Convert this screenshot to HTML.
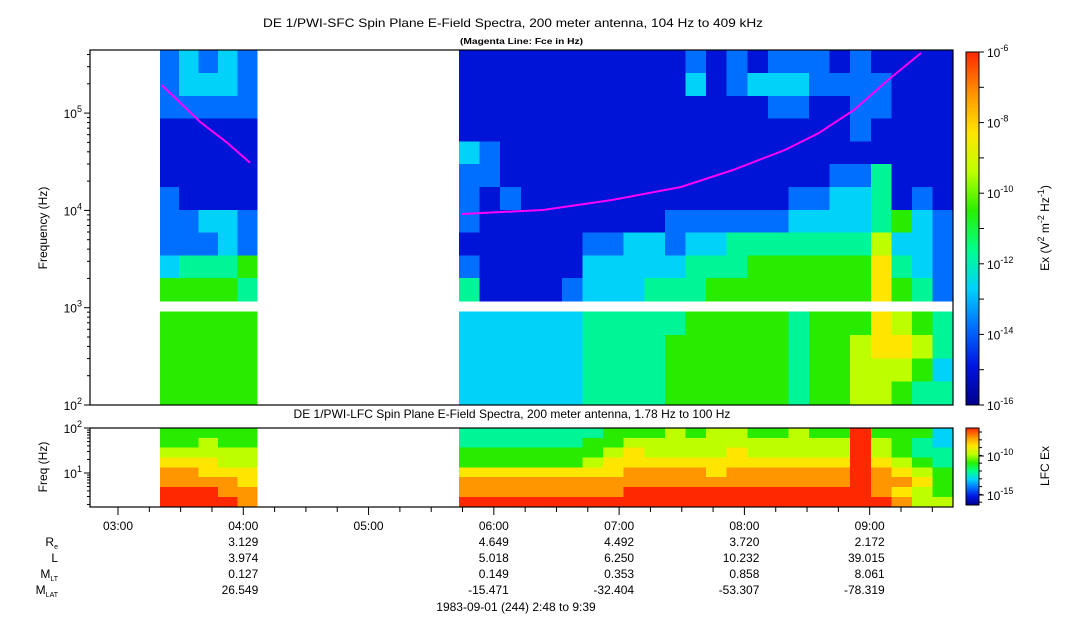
<!DOCTYPE html>
<html><head><meta charset="utf-8"><style>
body{margin:0;background:#fff;}
svg{display:block;font-family:"Liberation Sans",sans-serif;}
</style></head><body>
<svg id="chart" width="1083" height="620" viewBox="0 0 1083 620">
<defs>
<linearGradient id="cbar" x1="0" y1="1" x2="0" y2="0">
<stop offset="0" stop-color="#00008c"/><stop offset="0.11" stop-color="#0014e1"/><stop offset="0.22" stop-color="#006eff"/><stop offset="0.33" stop-color="#00d2fa"/><stop offset="0.44" stop-color="#00ff8c"/><stop offset="0.55" stop-color="#28f000"/><stop offset="0.66" stop-color="#beff00"/><stop offset="0.77" stop-color="#ffe600"/><stop offset="0.88" stop-color="#ff9600"/><stop offset="1" stop-color="#ff2800"/>
</linearGradient>
</defs>
<text x="263" y="27" font-size="12" textLength="500" lengthAdjust="spacingAndGlyphs">DE 1/PWI-SFC  Spin Plane E-Field Spectra, 200 meter antenna, 104 Hz to 409 kHz</text>
<text x="460" y="44" font-size="8" font-weight="bold" textLength="123" lengthAdjust="spacingAndGlyphs">(Magenta Line: Fce in Hz)</text>
<text x="512" y="418" font-size="12" text-anchor="middle">DE 1/PWI-LFC  Spin Plane E-Field Spectra, 200 meter antenna, 1.78 Hz to 100 Hz</text>
<text transform="translate(47,228) rotate(-90)" font-size="12" text-anchor="middle">Frequency (Hz)</text>
<text transform="translate(47,467) rotate(-90)" font-size="12" text-anchor="middle">Freq (Hz)</text>
<text transform="translate(1049,228) rotate(-90)" font-size="12" text-anchor="middle">Ex (V<tspan dy="-5" font-size="9">2</tspan><tspan dy="5"> m</tspan><tspan dy="-5" font-size="9">-2</tspan><tspan dy="5"> Hz</tspan><tspan dy="-5" font-size="9">-1</tspan><tspan dy="5">)</tspan></text>
<text transform="translate(1049,466) rotate(-90)" font-size="12" text-anchor="middle">LFC Ex</text>
<rect x="966" y="52" width="13" height="353" fill="url(#cbar)" stroke="#000" stroke-width="1"/>
<rect x="966" y="428" width="13" height="77" fill="url(#cbar)" stroke="#000" stroke-width="1"/>
<g id="cells"></g>
<g id="overlay"></g>
<rect x="90" y="50" width="863" height="355" fill="none" stroke="#000" stroke-width="1.2"/>
<rect x="90" y="428" width="863" height="79" fill="none" stroke="#000" stroke-width="1.2"/>
<g id="axes"></g>
</svg>
<script>
// ---- data (values on 0..9 scale = log power level) ----
const leftTimeRange = [200, 246.5];   // minutes of day
const rightTimeRange = [343.3, 580];
const sfcUpperLogRange = [3.07, 5.646];
const sfcLowerLogRange = [2.0, 2.96];
const lfcLogRange = [0.25, 2.0];
const sfcLeftUpper = ["23232","23332","22222","11111","11111","11111","21111","22332","22232","34445","55554"];
const sfcLeftLower = ["55555","55555","55555","55555"];
const sfcRightUpper = [
"111111111112121222121111",
"111111111113123332222111",
"111111111111111221122111",
"111111111111111111121111",
"321111111111111111111111",
"221111111111111111224111",
"212111111111111122334121",
"211111111122222233334532",
"111111223323344444446332",
"211111333334445555557432",
"411112333444555555557542"];
const sfcRightLower = [
"333333444445555545557654",
"333333444455555545567764",
"333333444455555545566653",
"333333444455555545566544"];
const lfcLeft = ["55555","55655","66666","77766","88777","88887","99988","99998"];
const lfcRight = [
"444444455565665565595553",
"444444556666666666696543",
"555555567666676666696544",
"555555677777777777797654",
"777777778888788888898765",
"888888888888888888898875",
"888888889999999999998765",
"999999999999999999999866"];
const fceLeftTimes = [200.9, 219.3, 232, 243.2];
const fceLeftLogF = [5.289, 4.91, 4.70, 4.49];
const fceRightTimes = [344.7, 383.5, 416.6, 449.6, 474.5, 499.4, 515.7, 532.5, 548.8, 564.6];
const fceRightLogF = [3.963, 4.004, 4.107, 4.240, 4.415, 4.621, 4.795, 5.032, 5.340, 5.618];
const timeTickLabels = ["03:00","04:00","05:00","06:00","07:00","08:00","09:00"];
const timeTickMinutes = [180,240,300,360,420,480,540];
const statRowLabels = ["R","L","M","M"];
const statRowSubs = ["e","","LT","LAT"];
const statColMinutes = [240,360,420,480,540];
const statRe = ["3.129","4.649","4.492","3.720","2.172"];
const statL = ["3.974","5.018","6.250","10.232","39.015"];
const statMLT = ["0.127","0.149","0.353","0.858","8.061"];
const statMLAT = ["26.549","-15.471","-32.404","-53.307","-78.319"];

// ---- scales ----
const NS='http://www.w3.org/2000/svg';
const xT = t => 118 + (t-180)*2.088;
const ySfc = lf => 405 - (lf-2)*97.3;
const yLfc = lf => 428 + (2-lf)*45;
const palette = [[0,0,140],[0,20,215],[0,110,255],[0,210,250],[0,245,150],[40,235,0],[190,255,0],[255,230,0],[255,150,0],[255,40,0]];
const color = v => { const c = palette[Math.max(0,Math.min(9,Math.round(v)))]; return `rgb(${c[0]},${c[1]},${c[2]})`; };
const cells = document.getElementById('cells');
const overlay = document.getElementById('overlay');
const axes = document.getElementById('axes');
function mk(tag, attrs, parent){ const e=document.createElementNS(NS,tag); for(const k in attrs) e.setAttribute(k,attrs[k]); parent.appendChild(e); return e; }

function drawGrid(rows, tRange, logRange, yFn, name){
  const nr = rows.length, nc = rows[0].length;
  const dt = (tRange[1]-tRange[0])/nc, dl = (logRange[1]-logRange[0])/nr;
  rows.forEach((row, i) => {
    for (let j=0;j<nc;j++){
      const x0 = xT(tRange[0]+j*dt), x1 = xT(tRange[0]+(j+1)*dt);
      const yTop = yFn(logRange[1]-i*dl), yBot = yFn(logRange[1]-(i+1)*dl);
      const r = mk('rect',{x:x0.toFixed(2),y:yTop.toFixed(2),width:(x1-x0+0.4).toFixed(2),height:(yBot-yTop+0.4).toFixed(2),fill:color(+row[j]),'shape-rendering':'crispEdges'},cells);
      
      
    }
  });
}
drawGrid(sfcLeftUpper, leftTimeRange, sfcUpperLogRange, ySfc, 'sfc-cell');
drawGrid(sfcLeftLower, leftTimeRange, sfcLowerLogRange, ySfc, 'sfc-cell');
drawGrid(sfcRightUpper, rightTimeRange, sfcUpperLogRange, ySfc, 'sfc-cell');
drawGrid(sfcRightLower, rightTimeRange, sfcLowerLogRange, ySfc, 'sfc-cell');
drawGrid(lfcLeft, leftTimeRange, lfcLogRange, yLfc, 'lfc-cell');
drawGrid(lfcRight, rightTimeRange, lfcLogRange, yLfc, 'lfc-cell');

function fceLine(ts, ls, name){
  const d = ts.map((t,i)=>(i?'L':'M')+xT(t).toFixed(1)+','+ySfc(ls[i]).toFixed(1)).join(' ');
  const p = mk('path',{d:d,fill:'none',stroke:'#ff00ff','stroke-width':2},overlay);
  
  
}
fceLine(fceLeftTimes, fceLeftLogF, 'fce-line-left');
fceLine(fceRightTimes, fceRightLogF, 'fce-line-right');

function powLabel(x,y,base,exp,name,anchorEnd){
  const t = mk('text',{x:x,y:y,'font-size':12,'text-anchor':anchorEnd?'end':'start'},axes);
  
  
  t.innerHTML = base+'<tspan dy="-6" font-size="9">'+exp+'</tspan>';
}
for (let d=2; d<=5; d++){
  const y = ySfc(d);
  mk('line',{x1:84,x2:90,y1:y,y2:y,stroke:'#000'},axes);
  powLabel(82,y+5,'10',d,'sfc-y-tick-label',true);
  for (let m=2;m<=9;m++){ const lf=d+Math.log10(m); if(lf>5.646) break; const ym=ySfc(lf); mk('line',{x1:87,x2:90,y1:ym,y2:ym,stroke:'#000'},axes); }
}
for (let d=1; d<=2; d++){
  const y = yLfc(d);
  mk('line',{x1:84,x2:90,y1:y,y2:y,stroke:'#000'},axes);
  powLabel(82,y+5,'10',d,'lfc-y-tick-label',true);
}
for (let d=0; d<2; d++) for (let m=2;m<=9;m++){ const lf=d+Math.log10(m); if(lf<0.25) continue; const ym=yLfc(lf); mk('line',{x1:87,x2:90,y1:ym,y2:ym,stroke:'#000'},axes); }
for (let e=-6;e>=-16;e--){
  const y = 52 + (-6-e)*35.3;
  mk('line',{x1:979,x2:984,y1:y,y2:y,stroke:'#000'},axes);
  if (e%2===0) powLabel(987,y+5,'10',e,'sfc-colorbar-tick-label',false);
}
[[-10,456],[-15,495]].forEach(p=>{ mk('line',{x1:979,x2:984,y1:p[1],y2:p[1],stroke:'#000'},axes); powLabel(987,p[1]+5,'10',p[0],'lfc-colorbar-tick-label',false); });
for (let y=432;y<505;y+=7.8) mk('line',{x1:979,x2:982,y1:y,y2:y,stroke:'#000'},axes);
for (let t=180; t<=575; t+=15){
  const x = xT(t), major = (t%60===0);
  mk('line',{x1:x,x2:x,y1:507,y2:major?515:512,stroke:'#000'},axes);
}
timeTickLabels.forEach((lab,i)=>{
  const t = mk('text',{x:xT(timeTickMinutes[i]),y:530,'font-size':12,'text-anchor':'middle'},axes);
  
  
  t.textContent = lab;
});
const statYs = [546,562,578,594];
statRowLabels.forEach((lab,i)=>{
  const t = mk('text',{x:58,y:statYs[i],'font-size':12,'text-anchor':'end'},axes);
  
  
  t.innerHTML = lab + (statRowSubs[i]?'<tspan font-size="7" dy="3">'+statRowSubs[i]+'</tspan>':'');
});
[statRe,statL,statMLT,statMLAT].forEach((vals,i)=>{
  vals.forEach((v,j)=>{
    const t = mk('text',{x:xT(statColMinutes[j])+15,y:statYs[i],'font-size':12,'text-anchor':'end'},axes);
    
    
    t.textContent = v;
  });
});
const dt = mk('text',{x:516,y:611,'font-size':12,'text-anchor':'middle'},axes);


dt.textContent = '1983-09-01 (244) 2:48 to 9:39';
</script>
</body></html>
